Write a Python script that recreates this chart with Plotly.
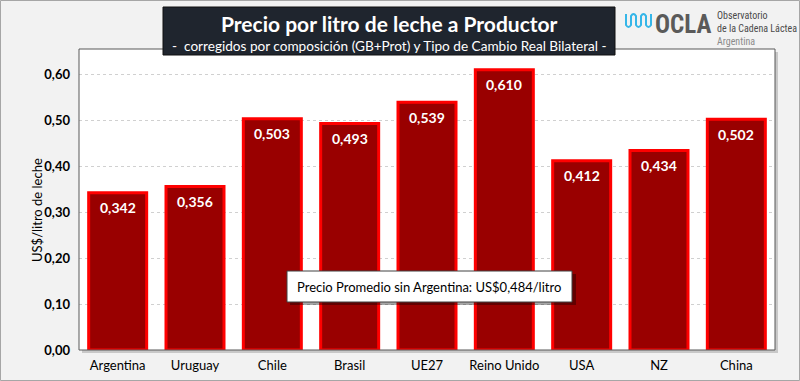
import plotly.graph_objects as go

categories = ["Argentina", "Uruguay", "Chile", "Brasil", "UE27", "Reino Unido", "USA", "NZ", "China"]
values = [0.342, 0.356, 0.503, 0.493, 0.539, 0.610, 0.412, 0.434, 0.502]
y_ticks = [0.0, 0.1, 0.2, 0.3, 0.4, 0.5, 0.6]
avg_text = "Precio Promedio sin Argentina: US$0,484/litro"
title = "Precio por litro de leche a Productor"
subtitle = "-  corregidos por composición (GB+Prot) y Tipo de Cambio Real Bilateral -"
y_title = "US$/litro de leche"

W, H = 800, 381
L, R, T, B = 79, 25, 49, 31
PW, PH = W - L - R, H - T - B
FONT = "Lato, 'Open Sans', sans-serif"
NARROW = "'Liberation Sans Narrow', 'Roboto Condensed', Roboto, sans-serif"


def px(x):
    return (x - L) / PW


def py(y):
    return (H - B - y) / PH


fig = go.Figure()
fig.add_trace(go.Bar(
    x=categories, y=values,
    marker=dict(color="#990000", line=dict(color="#ff0000", width=3)),
    width=0.75, hoverinfo="skip",
))

shapes = []
shapes.append(dict(type="rect", xref="paper", yref="paper", x0=px(0.5), x1=px(W - 0.5), y0=py(H - 0.5), y1=py(0.5),
                   line=dict(color="#a6a6a6", width=1), fillcolor="rgba(0,0,0,0)", layer="below"))
shapes.append(dict(type="rect", xref="paper", yref="paper", x0=px(L + 3), x1=px(W - R + 3), y0=py(H - B + 3), y1=py(T + 3),
                   line=dict(width=0), fillcolor="#c8c8c8", layer="below"))
shapes.append(dict(type="rect", xref="paper", yref="paper", x0=0, x1=1, y0=0, y1=1,
                   line=dict(width=0), fillcolor="white", layer="below"))
shapes.append(dict(type="rect", xref="paper", yref="paper", x0=0, x1=1, y0=0, y1=1,
                   line=dict(color="#595959", width=1), fillcolor="rgba(0,0,0,0)", layer="above"))
shapes.append(dict(type="rect", xref="paper", yref="paper", x0=px(163), x1=px(615), y0=py(55), y1=py(7),
                   line=dict(color="#111111", width=1), fillcolor="#1f252e", layer="above"))
shapes.append(dict(type="rect", xref="paper", yref="paper", x0=px(290), x1=px(576), y0=py(305), y1=py(274),
                   line=dict(width=0), fillcolor="rgba(0,0,0,0.35)", layer="above"))
shapes.append(dict(type="rect", xref="paper", yref="paper", x0=px(287), x1=px(572), y0=py(302), y1=py(271),
                   line=dict(color="#404040", width=1), fillcolor="white", layer="above"))
xs = [626, 631, 636, 641, 646, 651]
top, bot = 14, 27
path = f"M {px(xs[0])},{py(top)}"
for i in range(len(xs) - 1):
    xa, xb = xs[i], xs[i + 1]
    if i % 2 == 0:
        path += f" L {px(xa)},{py(bot - 2)} Q {px((xa + xb) / 2)},{py(bot + 2)} {px(xb)},{py(bot - 2)}"
    else:
        path += f" L {px(xa)},{py(top + 2)} Q {px((xa + xb) / 2)},{py(top - 2)} {px(xb)},{py(top + 2)}"
path += f" L {px(xs[-1])},{py(top)}"
shapes.append(dict(type="path", xref="paper", yref="paper", path=path,
                   line=dict(color="#35b6e8", width=2), layer="above"))

annotations = [
    dict(text=f"<b>{title}</b>", x=px(389), y=py(23), xref="paper", yref="paper", showarrow=False,
         font=dict(color="white", size=21, family=FONT), xanchor="center", yanchor="middle"),
    dict(text=subtitle, x=px(389), y=py(46), xref="paper", yref="paper", showarrow=False,
         font=dict(color="white", size=13.6, family=FONT), xanchor="center", yanchor="middle"),
    dict(text=avg_text, x=px(429), y=py(286.5), xref="paper", yref="paper", showarrow=False,
         font=dict(color="black", size=13, family=FONT), xanchor="center", yanchor="middle"),
    dict(text="<b>OCLA</b>", x=px(653), y=py(24), xref="paper", yref="paper", showarrow=False,
         font=dict(color="#5a5a5a", size=25, family=NARROW), xanchor="left", yanchor="middle"),
    dict(text="Observatorio<br>de la Cadena Láctea", x=px(715), y=py(22), xref="paper", yref="paper", showarrow=False,
         font=dict(color="#4a4a4a", size=10, family=NARROW), xanchor="left", yanchor="middle", align="left"),
    dict(text="Argentina", x=px(715), y=py(41), xref="paper", yref="paper", showarrow=False,
         font=dict(color="#8a8a8a", size=10, family=NARROW), xanchor="left", yanchor="middle", align="left"),
    dict(text=y_title, x=px(37), y=py(210), xref="paper", yref="paper", showarrow=False, textangle=-90,
         font=dict(color="black", size=13, family=FONT), xanchor="center", yanchor="middle"),
]
for c, v in zip(categories, values):
    annotations.append(dict(text=f"<b>{v:.3f}</b>".replace(".", ","), x=c, y=v, xref="x", yref="y",
                            showarrow=False, yshift=-15, yanchor="middle",
                            font=dict(color="white", size=14, family=FONT)))

fig.update_layout(
    width=W, height=H,
    margin=dict(l=L, r=R, t=T, b=B, pad=0),
    paper_bgcolor="#f2f2f2", plot_bgcolor="white",
    separators=",.",
    showlegend=False, bargap=0.25,
    font=dict(family=FONT, color="black"),
    shapes=shapes, annotations=annotations,
    xaxis=dict(showgrid=False, showline=False, ticks="", automargin=False,
               tickfont=dict(size=13, family=FONT, color="black"), ticklabelstandoff=6),
    yaxis=dict(range=[0, 0.655], tickvals=y_ticks, tickformat=".2f", showgrid=True, automargin=False,
               gridcolor="#d0d0d0", griddash="dot", gridwidth=1, zeroline=False, showline=False,
               tickfont=dict(size=13, family=FONT, color="black", weight="bold"),
               ticklabelstandoff=8),
)

fig.write_html("out.html", config={"displayModeBar": False},
               post_script="document.body.style.margin='0';document.body.style.overflow='hidden';")
